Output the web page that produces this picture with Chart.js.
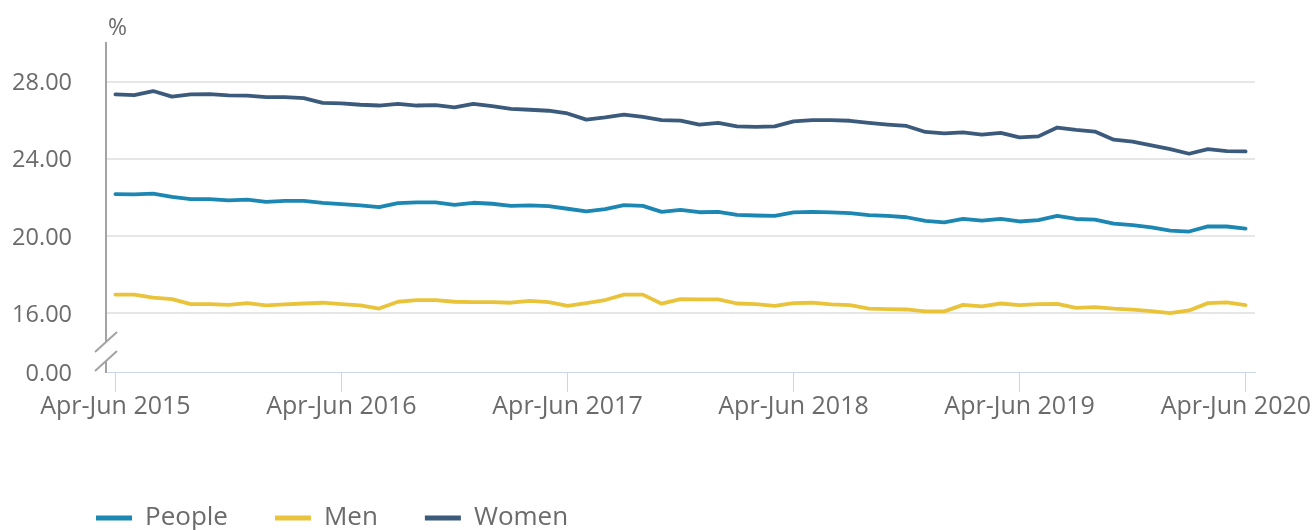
<!DOCTYPE html>
<html>
<head>
<meta charset="utf-8">
<script src="https://cdn.jsdelivr.net/npm/chart.js@4.4.1/dist/chart.umd.min.js"></script>
<style>
  html, body { margin: 0; padding: 0; background: #fff; }
  #wrap { width: 1312px; height: 530px; }
</style>
</head>
<body>
<div id="wrap"><canvas id="chart" width="1312" height="530"></canvas></div>
<script>
// rolling three-month periods, Apr-Jun 2015 .. Apr-Jun 2020
const MONTHS = ['Jan', 'Feb', 'Mar', 'Apr', 'May', 'Jun', 'Jul', 'Aug', 'Sep', 'Oct', 'Nov', 'Dec'];
const periods = [];
for (let m = 3; m <= 63; m++) {
  periods.push(MONTHS[m % 12] + '-' + MONTHS[(m + 2) % 12] + ' ' + (2015 + Math.floor((m + 2) / 12)));
}

const people = [
  22.17, 22.16, 22.19, 22.03, 21.91, 21.91, 21.84, 21.88, 21.77, 21.82,
  21.82, 21.72, 21.65, 21.58, 21.49, 21.70, 21.74, 21.74, 21.61, 21.72,
  21.67, 21.56, 21.58, 21.55, 21.41, 21.27, 21.39, 21.60, 21.56, 21.25,
  21.35, 21.23, 21.25, 21.09, 21.06, 21.04, 21.22, 21.25, 21.22, 21.18,
  21.08, 21.04, 20.97, 20.78, 20.70, 20.88, 20.80, 20.88, 20.75, 20.82,
  21.04, 20.88, 20.85, 20.64, 20.56, 20.44, 20.28, 20.23, 20.50, 20.49,
  20.38
];
const men = [
  16.96, 16.96, 16.80, 16.73, 16.47, 16.47, 16.43, 16.52, 16.40, 16.45,
  16.50, 16.54, 16.47, 16.40, 16.24, 16.59, 16.68, 16.68, 16.59, 16.57,
  16.57, 16.54, 16.64, 16.57, 16.38, 16.52, 16.68, 16.96, 16.96, 16.49,
  16.73, 16.71, 16.71, 16.50, 16.47, 16.38, 16.52, 16.54, 16.45, 16.42,
  16.23, 16.21, 16.19, 16.09, 16.09, 16.43, 16.35, 16.50, 16.42, 16.47,
  16.48, 16.27, 16.31, 16.23, 16.18, 16.10, 16.00, 16.14, 16.52, 16.56,
  16.42
];
const women = [
  27.34, 27.30, 27.51, 27.22, 27.34, 27.35, 27.29, 27.27, 27.20, 27.20,
  27.14, 26.90, 26.87, 26.80, 26.76, 26.85, 26.76, 26.78, 26.66, 26.85,
  26.73, 26.59, 26.54, 26.49, 26.35, 26.03, 26.14, 26.29, 26.17, 26.00,
  25.98, 25.77, 25.86, 25.68, 25.65, 25.68, 25.94, 26.00, 26.00, 25.97,
  25.86, 25.77, 25.70, 25.39, 25.32, 25.37, 25.25, 25.34, 25.11, 25.16,
  25.62, 25.50, 25.41, 24.99, 24.89, 24.70, 24.50, 24.26, 24.50, 24.40,
  24.38
];

// y axis is broken: the bottom of the axis stands for 0
const yTicks = [16, 20, 24, 28];
const Y_MIN = 12.95, Y_MAX = 30;
const xTickPrefix = 'Apr-Jun';

const TEXT = '#6b6b6b';
const GRID = '#e6e6e6';
const AXIS_Y = '#a3a3a3';
const AXIS_X = '#ccd6eb';
const COL = { people: '#1c87b2', men: '#e9c43b', women: '#3c5b7c' };

Chart.defaults.font.family = "'Open Sans', sans-serif";
Chart.defaults.color = TEXT;

const isShown = i => periods[i] && periods[i].startsWith(xTickPrefix);

// axis break marks and the "%" unit label
const axisBreak = {
  id: 'axisBreak',
  afterDraw(chart) {
    const { ctx, chartArea: { left, top, bottom } } = chart;
    ctx.save();
    ctx.fillStyle = '#fff';
    ctx.fillRect(left - 2, bottom - 30, 4, 19);
    ctx.strokeStyle = AXIS_Y;
    ctx.lineWidth = 2;
    [bottom - 30, bottom - 11].forEach(cy => {
      ctx.beginPath();
      ctx.moveTo(left - 11, cy + 10);
      ctx.lineTo(left + 11, cy - 10);
      ctx.stroke();
    });
    ctx.fillStyle = TEXT;
    ctx.font = "23px 'Open Sans'";
    ctx.textAlign = 'left';
    ctx.textBaseline = 'alphabetic';
    ctx.fillText('%', left + 2, top - 8);
    ctx.restore();
  }
};

// legend sits indented under the plot, not at the canvas edge
const legendIndent = {
  id: 'legendIndent',
  afterLayout(chart) {
    chart.legend.left += 41;
    chart.legend.right += 41;
  }
};

const line = (label, data, color) => ({
  label, data, borderColor: color, backgroundColor: color,
  borderWidth: 3.8, pointRadius: 0, tension: 0,
  borderCapStyle: 'round', borderJoinStyle: 'round'
});

new Chart(document.getElementById('chart'), {
  type: 'line',
  data: {
    labels: periods,
    datasets: [
      line('People', people, COL.people),
      line('Men', men, COL.men),
      line('Women', women, COL.women)
    ]
  },
  options: {
    responsive: false,
    animation: false,
    layout: { padding: { top: 43, left: 8, right: 57, bottom: -11 } },
    plugins: {
      tooltip: { enabled: false },
      legend: {
        position: 'bottom',
        align: 'start',
        labels: {
          color: TEXT, font: { size: 26 },
          boxWidth: 36, boxHeight: 5, padding: 47,
          generateLabels: chart => Chart.defaults.plugins.legend.labels.generateLabels(chart)
            .map(l => Object.assign(l, { lineWidth: 0 }))
        }
      }
    },
    scales: {
      x: {
        offset: true,
        grid: {
          offset: false, drawOnChartArea: false, tickLength: 20, lineWidth: 1,
          color: c => isShown(c.index) ? AXIS_X : 'transparent'
        },
        border: { color: AXIS_X, width: 1 },
        ticks: {
          autoSkip: false, maxRotation: 0, minRotation: 0, padding: 0,
          font: { size: 25 }, color: TEXT,
          callback: (v, i) => {
            if (!isShown(i)) return '';
            // trailing spaces pull the last label back inside the canvas
            return i === periods.length - 1 ? periods[i] + '   ' : periods[i];
          }
        },
        afterFit: s => { s.height = 86; s.paddingLeft = 0; s.paddingRight = 0; }
      },
      y: {
        min: Y_MIN, max: Y_MAX,
        afterBuildTicks: s => { s.ticks = [Y_MIN, ...yTicks].map(v => ({ value: v })); },
        grid: {
          drawTicks: false, lineWidth: 2,
          color: c => c.tick && c.tick.value === Y_MIN ? 'transparent' : GRID
        },
        border: { color: AXIS_Y, width: 2 },
        ticks: {
          padding: 34, labelOffset: 2, font: { size: 23.5 }, color: TEXT,
          callback: v => v === Y_MIN ? '0.00' : v.toFixed(2)
        },
        afterFit: s => { s.width = 98; s.paddingTop = 0; s.paddingBottom = 0; }
      }
    }
  },
  plugins: [axisBreak, legendIndent]
});
</script>
</body>
</html>
